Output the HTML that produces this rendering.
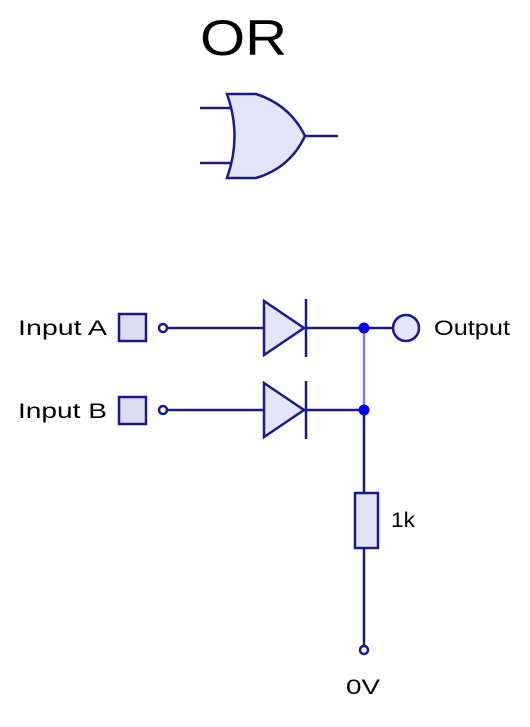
<!DOCTYPE html>
<html><head><style>body{margin:0;background:#fff}</style></head><body>
<svg width="530" height="722" viewBox="0 0 530 722" xmlns="http://www.w3.org/2000/svg" font-family="Liberation Sans, sans-serif">
<text x="200" y="55" font-size="50" textLength="87" lengthAdjust="spacingAndGlyphs" fill="#000">OR</text>
<g stroke="#1a1a8c" stroke-width="2.5" fill="none">
<line x1="200" y1="108" x2="233" y2="108"/>
<line x1="200" y1="163" x2="233" y2="163"/>
<line x1="305" y1="136" x2="338" y2="136"/>
<path d="M227,94 L256,94 Q290,105 305,136 Q290,168 256,178 L227,178 Q242,136 227,94 Z" fill="#e4e4fa"/>
</g>
<g font-size="21" fill="#000">
<text x="18" y="335" textLength="89" lengthAdjust="spacingAndGlyphs">Input A</text>
<text x="18" y="418" textLength="89" lengthAdjust="spacingAndGlyphs">Input B</text>
<text x="434" y="335" textLength="76" lengthAdjust="spacingAndGlyphs">Output</text>
<text x="391" y="527" textLength="24" lengthAdjust="spacingAndGlyphs">1k</text>
<text x="346" y="694" textLength="34" lengthAdjust="spacingAndGlyphs">0V</text>
</g>
<g stroke="#1a1a8c" stroke-width="2.5">
<rect x="119" y="314" width="27" height="27" fill="#dcdcf0"/>
<rect x="119" y="397" width="27" height="27" fill="#dcdcf0"/>
<line x1="167" y1="328" x2="305" y2="328"/>
<line x1="167" y1="410" x2="305" y2="410"/>
<line x1="305" y1="328" x2="393" y2="328"/>
<line x1="305" y1="410" x2="364" y2="410"/>
<circle cx="163" cy="328" r="4" fill="#fff"/>
<circle cx="163" cy="410" r="4" fill="#fff"/>
<polygon points="264,301 264,355 304,328" fill="#e4e4fa"/>
<polygon points="264,383 264,437 304,410" fill="#e4e4fa"/>
<line x1="306" y1="299" x2="306" y2="357"/>
<line x1="306" y1="381" x2="306" y2="439"/>
<line x1="364" y1="410" x2="364" y2="646"/>
<rect x="355" y="493" width="23" height="55" fill="#e4e4fa"/>
<circle cx="364" cy="650" r="4" fill="#fff"/>
<circle cx="406" cy="328" r="13" fill="#e4e4fa"/>
</g>
<line x1="364" y1="328" x2="364" y2="410" stroke="#8080f0" stroke-width="2.5"/>
<circle cx="364" cy="328" r="5.5" fill="#0000ee"/>
<circle cx="364" cy="410" r="5.5" fill="#0000ee"/>
</svg>
</body></html>
